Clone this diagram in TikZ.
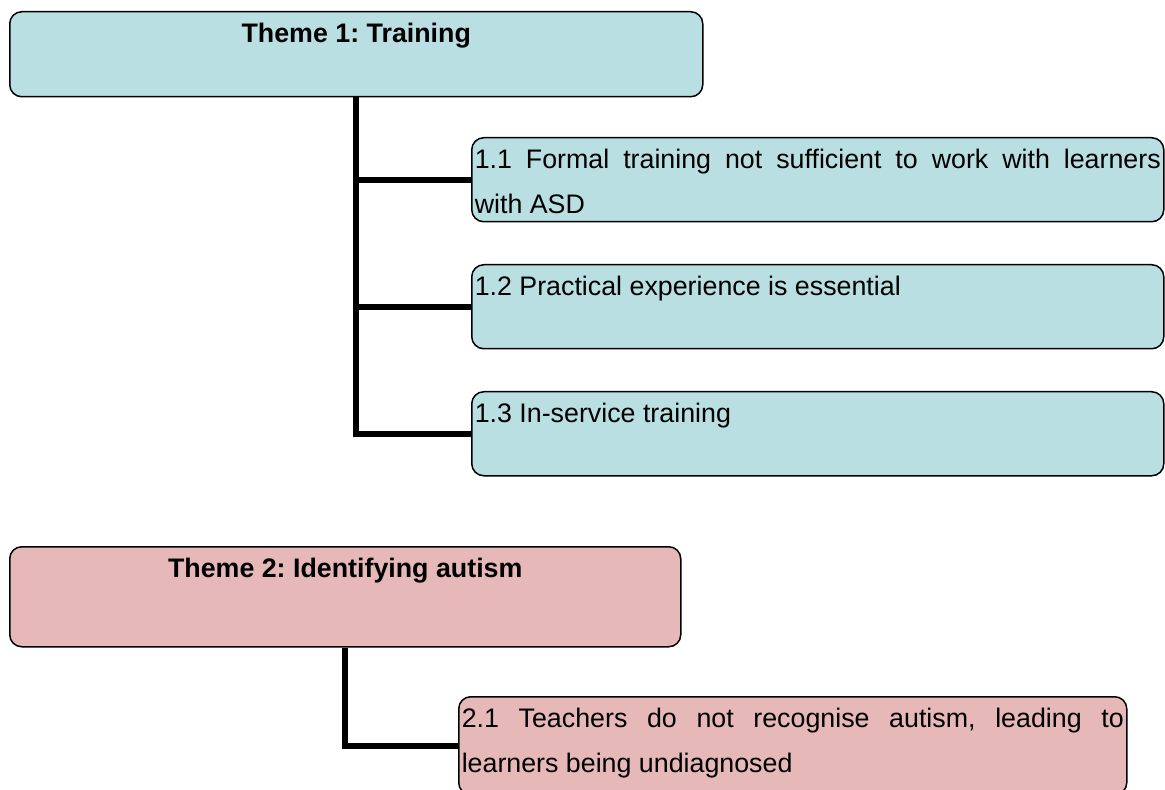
\documentclass[tikz,border=0pt]{standalone}
\usepackage{fontspec}
\setmainfont{Liberation Sans}
\usepackage{xcolor}
\usetikzlibrary{calc}
\frenchspacing
\definecolor{themeblue}{HTML}{B9DFE3}
\definecolor{themepink}{HTML}{E6B9B8}
\newcommand{\boxtext}[3]{% width, height, text
\begin{minipage}[t][#2][t]{#1}\rule{0pt}{15.5pt}#3\end{minipage}}
\tikzstyle{themebox} = [
    draw=black,
    line width=0.75pt,
    rectangle,
    rounded corners=6pt,
    inner xsep=1.5pt,
    inner ysep=0pt,
    anchor=north west
    ]
\tikzstyle{branch} = [
    line width=3pt,
    line join=miter
    ]

\begin{document}
\begin{tikzpicture}[x=0.5pt, y=-0.5pt, font=\fontsize{13.4}{22.5}\selectfont]
\useasboundingbox (0,0) rectangle (1165,790);
\clip (0,0) rectangle (1165,790);
% theme 1
\node[themebox, fill=themeblue] (t1) at (9,11)
    {\boxtext{343.5pt}{42.5pt}{\centering\textbf{Theme 1: Training}}};
\node[themebox, fill=themeblue] (s11) at (471,137)
    {\boxtext{343pt}{42pt}{1.1 Formal training not sufficient to work with learners\linebreak with ASD}};
\node[themebox, fill=themeblue] (s12) at (471,264)
    {\boxtext{343pt}{42pt}{1.2 Practical experience is essential}};
\node[themebox, fill=themeblue] (s13) at (471,391)
    {\boxtext{343pt}{42pt}{1.3 In-service training}};
\draw[branch] (t1.south) |- (s13.west);
\draw[branch] (t1.south |- s11.west) -- (s11.west);
\draw[branch] (t1.south |- s12.west) -- (s12.west);
% theme 2
\node[themebox, fill=themepink] (t2) at (9,546)
    {\boxtext{332.5pt}{50pt}{\centering\textbf{Theme 2: Identifying autism}}};
\node[themebox, fill=themepink] (s21) at (458,696)
    {\boxtext{331pt}{49pt}{2.1 Teachers do not recognise autism, leading to\linebreak learners being undiagnosed}};
\draw[branch] (t2.south) |- (s21.west);
\end{tikzpicture}
\end{document}
